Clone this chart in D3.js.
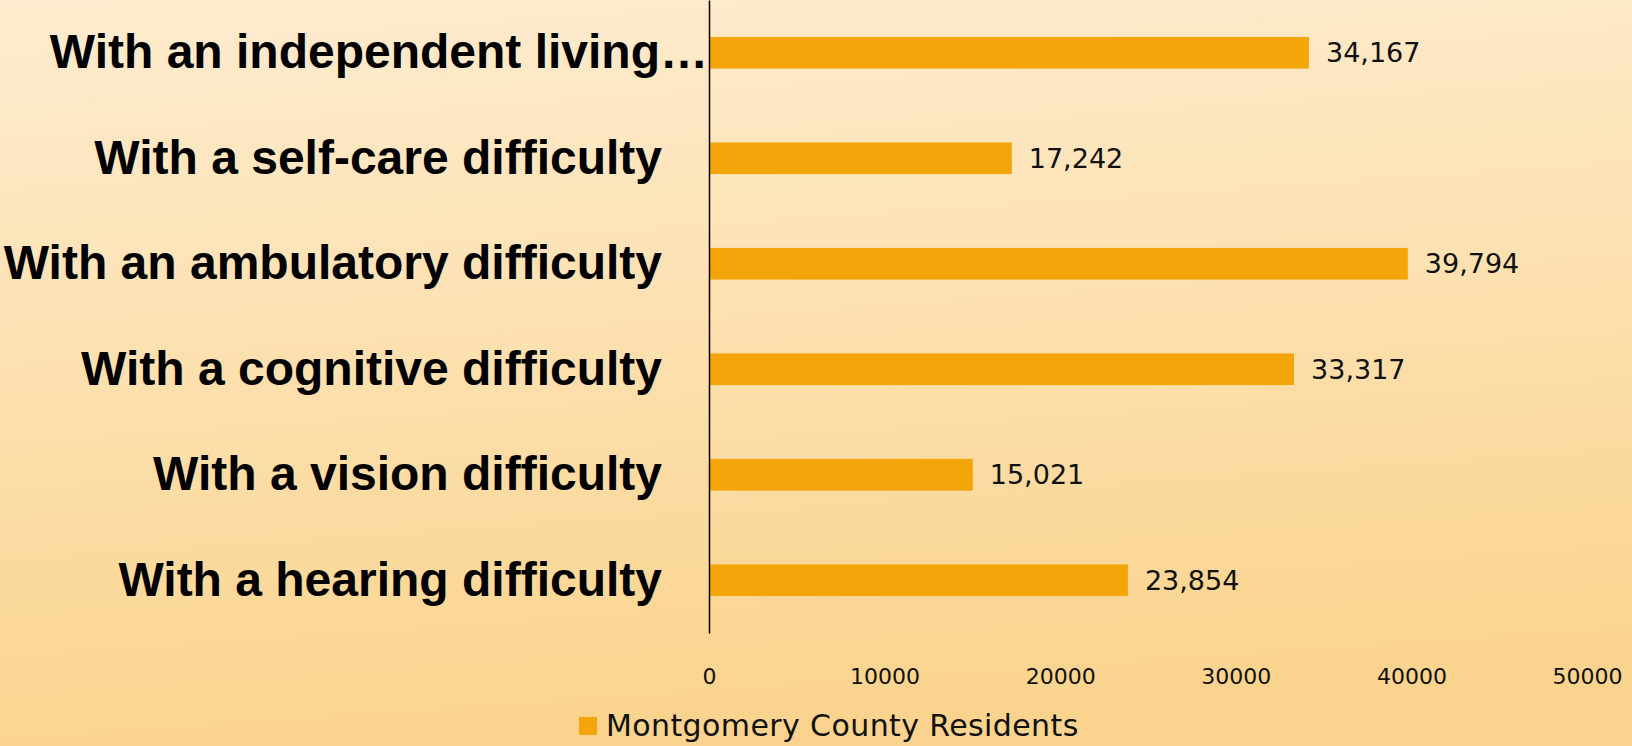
<!DOCTYPE html>
<html>
  <head>
    <meta charset="utf-8" />
    <script src="https://d3js.org/d3.v7.min.js"></script>
    <style>
      body {
        margin: 0px;
      }
      .cat-label {
        font-family: "Liberation Sans", Arial, sans-serif;
        font-weight: bold;
        font-size: 48px;
        fill: #000;
      }
      .tick-label {
        font-family: "DejaVu Sans", sans-serif;
        font-size: 22px;
        fill: #111;
      }
      .value-label {
        font-family: "DejaVu Sans", sans-serif;
        font-size: 27px;
        fill: #111;
      }
      .legend-label {
        font-family: "DejaVu Sans", sans-serif;
        font-size: 30px;
        letter-spacing: 0.4px;
        fill: #111;
      }
    </style>
  </head>
  <body>
    <svg width="1632" height="746"></svg>
    <script>
      const categories = [
        "With an independent living difficulty",
        "With a self-care difficulty",
        "With an ambulatory difficulty",
        "With a cognitive difficulty",
        "With a vision difficulty",
        "With a hearing difficulty",
      ];
      const residents = [34167, 17242, 39794, 33317, 15021, 23854];
      const xTicks = [0, 10000, 20000, 30000, 40000, 50000];
      const seriesName = "Montgomery County Residents";

      const barColor = "#f4a50a";
      const svg = d3.select("svg");
      const width = +svg.attr("width");
      const height = +svg.attr("height");

      // background gradient
      const defs = svg.append("defs");
      const grad = defs
        .append("linearGradient")
        .attr("id", "bg")
        .attr("x1", 0)
        .attr("y1", 0)
        .attr("x2", 0.15)
        .attr("y2", 1);
      grad.append("stop").attr("offset", "0%").attr("stop-color", "#feecd0");
      grad.append("stop").attr("offset", "100%").attr("stop-color", "#fad48e");
      svg
        .append("rect")
        .attr("width", width)
        .attr("height", height)
        .attr("fill", "url(#bg)");

      const data = categories.map((c, i) => ({ name: c, value: residents[i] }));

      const x = d3.scaleLinear().domain([0, 50000]).range([709, 1587]);
      const y = d3
        .scaleBand()
        .domain(categories)
        .range([0, 633])
        .paddingInner(0.7)
        .paddingOuter(0.35);

      // bars
      svg
        .selectAll(".bar")
        .data(data)
        .enter()
        .append("rect")
        .attr("class", "bar")
        .attr("x", x(0))
        .attr("y", (d) => y(d.name))
        .attr("width", (d) => x(d.value) - x(0))
        .attr("height", y.bandwidth())
        .attr("fill", barColor);

      // value labels
      svg
        .selectAll(".value-label")
        .data(data)
        .enter()
        .append("text")
        .attr("class", "value-label")
        .attr("x", (d) => x(d.value) + 17)
        .attr("y", (d) => y(d.name) + y.bandwidth() / 2)
        .attr("dy", "0.36em")
        .text((d) => d3.format(",")(d.value));

      // category axis
      const yAxisG = svg
        .append("g")
        .attr("transform", `translate(${x(0)},0)`)
        .call(d3.axisLeft(y).tickSize(0).tickPadding(47));
      yAxisG.select(".domain").attr("stroke", "#000").attr("stroke-width", 1.5);
      yAxisG.selectAll("text").attr("class", "cat-label").attr("font-size", null).attr("font-family", null).attr("fill", null);

      // truncate labels that do not fit, PowerPoint style
      const maxW = x(0) - 48;
      yAxisG.selectAll("text").each(function (d) {
        const t = d3.select(this);
        if (this.getComputedTextLength() > x(0) - 47) {
          let words = d.split(" ");
          t.attr("x", -1);
          while (words.length > 1) {
            words.pop();
            t.text(words.join(" ") + "…");
            if (this.getComputedTextLength() <= maxW) break;
          }
        }
      });

      // value axis
      const xAxisG = svg
        .append("g")
        .attr("transform", "translate(0,633)")
        .call(
          d3
            .axisBottom(x)
            .tickValues(xTicks)
            .tickSize(0)
            .tickPadding(35)
            .tickFormat(d3.format("d"))
        );
      xAxisG.select(".domain").remove();
      xAxisG.selectAll("text").attr("class", "tick-label").attr("font-size", null).attr("font-family", null).attr("fill", null);

      // legend
      svg
        .append("rect")
        .attr("x", 579)
        .attr("y", 717)
        .attr("width", 18)
        .attr("height", 18)
        .attr("fill", barColor);
      svg
        .append("text")
        .attr("class", "legend-label")
        .attr("x", 606)
        .attr("y", 736)
        .text(seriesName);
    </script>
  </body>
</html>
